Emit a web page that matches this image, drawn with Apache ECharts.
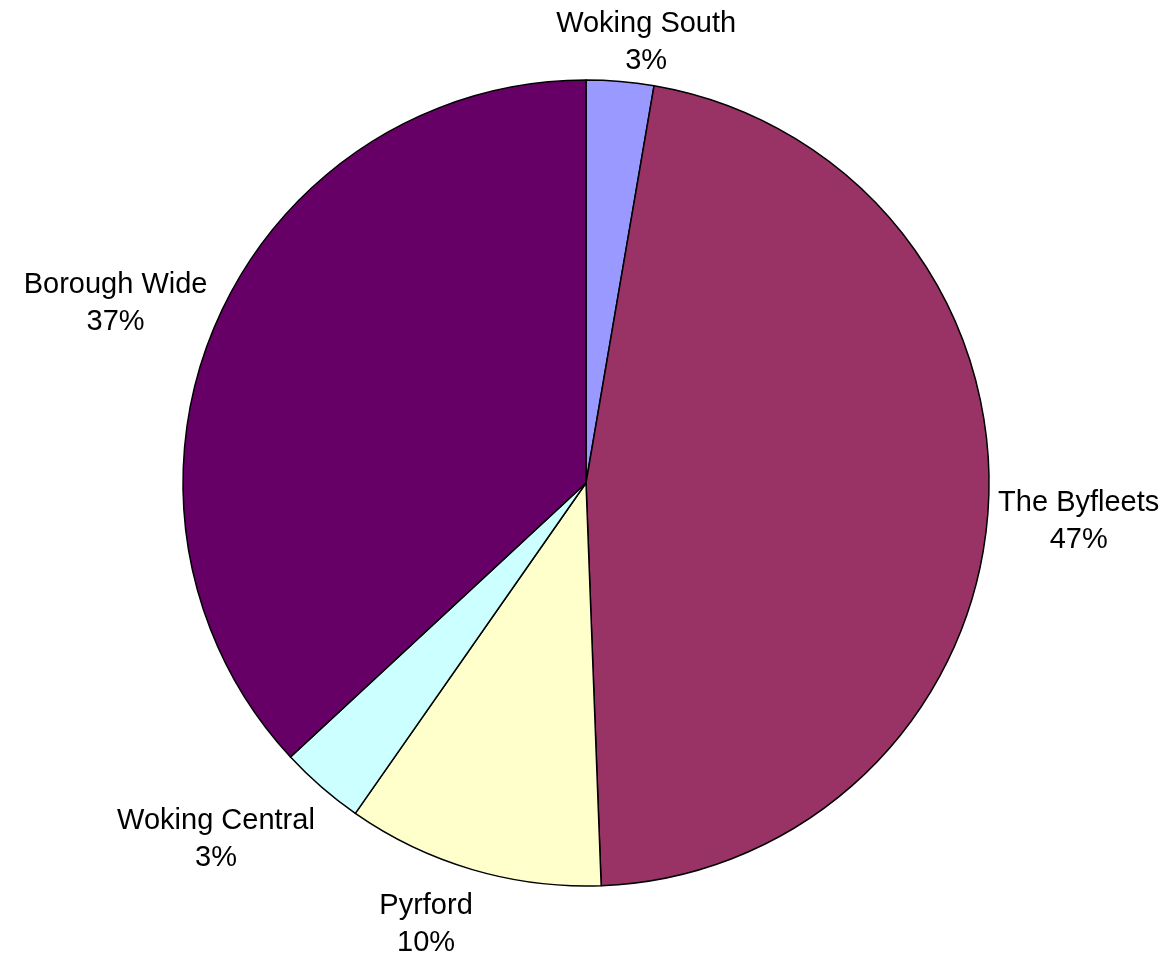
<!DOCTYPE html>
<html>
<head>
<meta charset="utf-8">
<script src="https://cdn.jsdelivr.net/npm/echarts@6/dist/echarts.min.js"></script>
<style>html,body{margin:0;padding:0;background:#fff}#c{width:1171px;height:962px}</style>
</head>
<body>
<div id="c"></div>
<script>
const categories = ['Woking South', 'The Byfleets', 'Pyrford', 'Woking Central', 'Borough Wide'];
const values = [2.7, 46.7, 10.3, 3.4, 36.9];
const colors = ['#9999FF', '#993366', '#FFFFCC', '#CCFFFF', '#660066'];

const CX = 586, CY = 483, R = 403;
const total = values.reduce((a, b) => a + b, 0);
const midAngles = [];
let acc = 0;
values.forEach(v => { midAngles.push((acc + v / 2) / total * 2 * Math.PI); acc += v; });

const chart = echarts.init(document.getElementById('c'));
chart.setOption({
  backgroundColor: '#ffffff',
  animation: false,
  series: [{
    type: 'pie',
    center: [CX, CY],
    radius: R,
    startAngle: 90,
    clockwise: true,
    data: categories.map((n, i) => ({ name: n, value: values[i], itemStyle: { color: colors[i] } })),
    itemStyle: { borderColor: '#000', borderWidth: 1.5 },
    percentPrecision: 0,
    label: {
      show: true,
      position: 'outside',
      formatter: '{b}\n{d}%',
      fontFamily: '"Liberation Sans", Arial, sans-serif',
      fontSize: 29,
      lineHeight: 37,
      color: '#000',
      align: 'center',
      overflow: 'none',
      edgeDistance: 0
    },
    labelLine: { show: false },
    labelLayout: function (p) {
      const a = midAngles[p.dataIndex];
      const dx = Math.sin(a), dy = -Math.cos(a);
      const hw = p.labelRect.width / 2, hh = p.labelRect.height / 2;
      const clamp = v => Math.max(-1, Math.min(1, v));
      const d = R + 10;
      return {
        x: CX + dx * d + hw * clamp(dx * 3.3),
        y: CY + dy * d + hh * clamp(dy * 1.5) + 8,
        align: 'center',
        verticalAlign: 'middle',
        hideOverlap: false
      };
    },
    emphasis: { disabled: true }
  }]
});
</script>
</body>
</html>
